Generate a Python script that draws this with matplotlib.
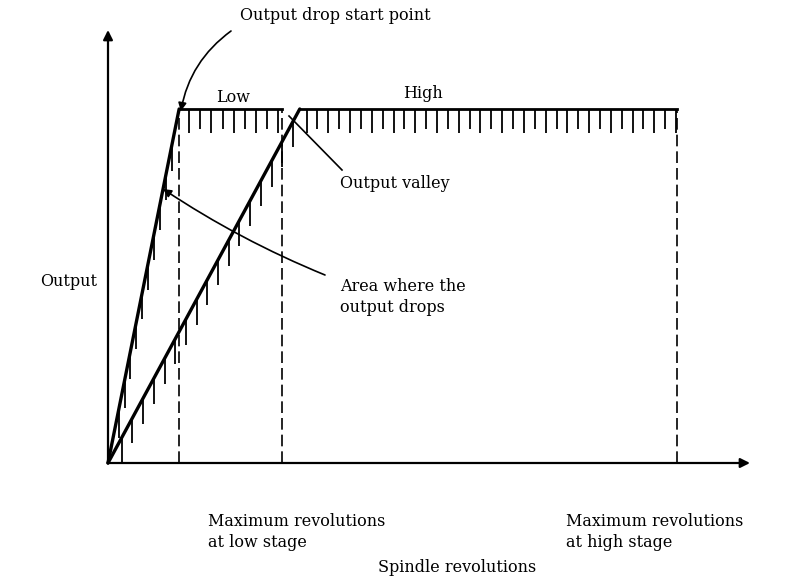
import numpy as np
import matplotlib.pyplot as plt

# Spindle revolutions (normalised to the high-stage maximum) and output (normalised to rated)
low_full_rev = 0.125     # low stage reaches rated output
low_max_rev = 0.306      # maximum revolutions at low stage
high_full_rev = 0.337    # high stage reaches rated output
high_max_rev = 1.0       # maximum revolutions at high stage
rated_output = 1.0

low_curve_x = [0.0, low_full_rev, low_max_rev]
low_curve_y = [0.0, rated_output, rated_output]
high_curve_x = [0.0, high_full_rev, high_max_rev]
high_curve_y = [0.0, rated_output, rated_output]

W, H = 801, 583
fig = plt.figure(figsize=(W / 100, H / 100), dpi=100)
ax = fig.add_axes([0, 0, 1, 1])

# pixel frame of the drawing
x0_px, y0_px = 108, 463
sx, sy = 569.0, 354.0
ax.set_xlim(-x0_px / sx, (W - x0_px) / sx)
ax.set_ylim(-(H - y0_px) / sy, y0_px / sy)
ax.axis('off')


def P(px, py):
    return ((px - x0_px) / sx, (y0_px - py) / sy)


FONT = dict(family='DejaVu Serif', fontsize=11.5, color='black')

# axes with arrows
ax.annotate('', xy=P(108, 30), xytext=(0, 0),
            arrowprops=dict(arrowstyle='-|>', lw=1.6, color='black',
                            mutation_scale=14, shrinkA=0, shrinkB=0))
ax.annotate('', xy=P(750, 463), xytext=(0, 0),
            arrowprops=dict(arrowstyle='-|>', lw=1.6, color='black',
                            mutation_scale=14, shrinkA=0, shrinkB=0))

# dashed verticals at the characteristic revolutions
for xv in (low_full_rev, low_max_rev, high_max_rev):
    ax.plot([xv, xv], [0, rated_output], color='black', lw=1.2,
            dashes=(7, 3), solid_capstyle='butt')

# output characteristics
ax.plot(low_curve_x[:2], low_curve_y[:2], color='black', lw=2.4, solid_capstyle='round')
ax.plot(low_curve_x[1:], low_curve_y[1:], color='black', lw=2.0)
ax.plot(high_curve_x[:2], high_curve_y[:2], color='black', lw=2.4, solid_capstyle='round')
ax.plot(high_curve_x[1:], high_curve_y[1:], color='black', lw=2.0)

# hatching below the characteristics
tick_kw = dict(color='black', lw=1.3, solid_capstyle='butt')


def hatch_flat(x_start, x_end, step, length):
    for i, xv in enumerate(np.arange(x_start, x_end + 1e-9, step)):
        L = length if i % 2 == 0 else length * 0.85
        ax.plot([xv, xv], [rated_output, rated_output - L], **tick_kw)


def hatch_slope(x_full, step, length):
    slope = rated_output / x_full
    for xv in np.arange(x_full - 0.012, 0.008, -step):
        yv = slope * xv
        ax.plot([xv, xv], [yv, max(yv - length, 0.0)], **tick_kw)


hatch_flat(low_full_rev + 0.0175, low_max_rev - 0.004, 0.0196, 0.068)
hatch_flat(high_full_rev + 0.012, high_max_rev, 0.0191, 0.068)
hatch_slope(low_full_rev, 0.0105, 0.078)
hatch_slope(high_full_rev, 0.0188, 0.072)

# labels
ax.text(*P(233, 97), 'Low', ha='center', va='center', **FONT)
ax.text(*P(423, 93), 'High', ha='center', va='center', **FONT)
ax.text(*P(240, 15), 'Output drop start point', ha='left', va='center', **FONT)
ax.text(*P(340, 183), 'Output valley', ha='left', va='center', **FONT)
ax.text(*P(40, 281), 'Output', ha='left', va='center', **FONT)
ax.text(*P(340, 297), 'Area where the\noutput drops', ha='left', va='center',
        linespacing=1.35, **FONT)
ax.text(*P(208, 532), 'Maximum revolutions\nat low stage', ha='left', va='center',
        linespacing=1.35, **FONT)
ax.text(*P(566, 532), 'Maximum revolutions\nat high stage', ha='left', va='center',
        linespacing=1.35, **FONT)
ax.text(*P(457, 567), 'Spindle revolutions', ha='center', va='center', **FONT)

# pointers
ax.annotate('', xy=(low_full_rev + 0.003, rated_output - 0.006), xytext=P(231, 31),
            arrowprops=dict(arrowstyle='-|>', lw=1.2, color='black', mutation_scale=12,
                            shrinkA=0, shrinkB=0, connectionstyle='arc3,rad=0.2'))
ax.annotate('', xy=(low_full_rev * 0.774, rated_output * 0.774), xytext=P(325, 275),
            arrowprops=dict(arrowstyle='-|>', lw=1.2, color='black', mutation_scale=12,
                            shrinkA=0, shrinkB=0, connectionstyle='arc3,rad=-0.05'))
ax.plot(*zip(P(342, 170), P(289, 116)), color='black', lw=1.2)

fig.savefig('out.png', dpi=100)
